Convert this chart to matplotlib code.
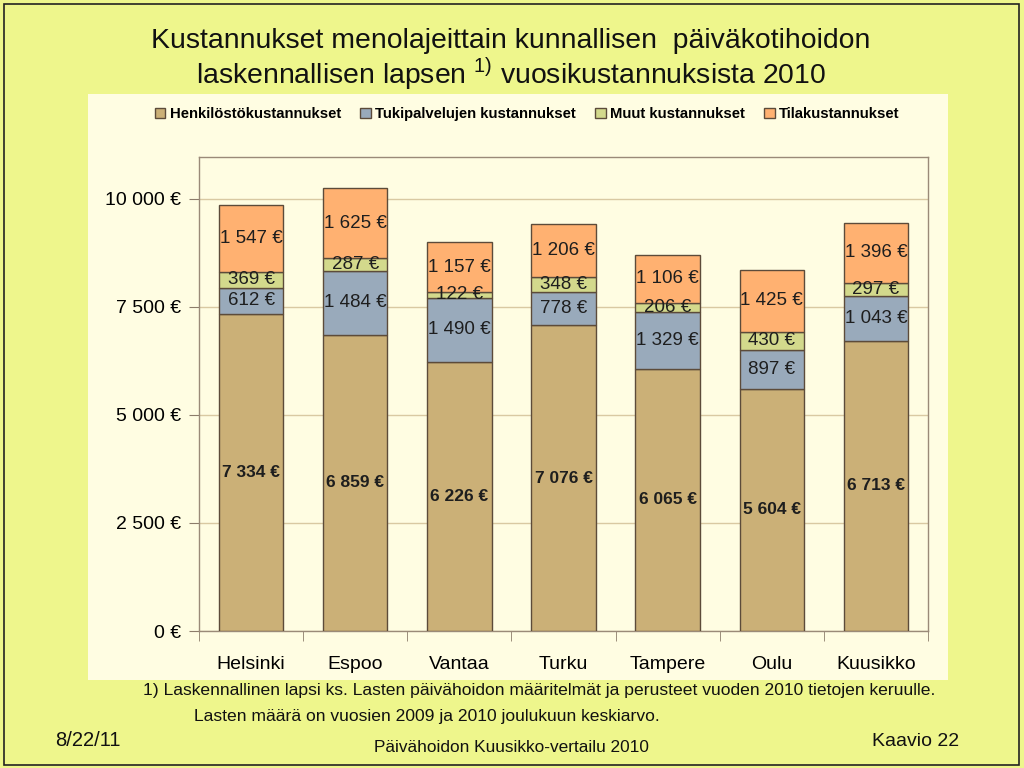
import matplotlib
matplotlib.use("Agg")
import matplotlib.pyplot as plt
from matplotlib.patches import Rectangle
from matplotlib.ticker import FuncFormatter, FixedLocator
import numpy as np

plt.rcParams['font.family'] = ['Liberation Sans', 'DejaVu Sans']
plt.rcParams['mathtext.fontset'] = 'custom'
plt.rcParams['mathtext.rm'] = 'Liberation Sans'

# data
cities = ["Helsinki", "Espoo", "Vantaa", "Turku", "Tampere", "Oulu", "Kuusikko"]
henkilosto = [7334, 6859, 6226, 7076, 6065, 5604, 6713]
tukipalvelut = [612, 1484, 1490, 778, 1329, 897, 1043]
muut = [369, 287, 122, 348, 206, 430, 297]
tila = [1547, 1625, 1157, 1206, 1106, 1425, 1396]
series_names = ["Henkilöstökustannukset", "Tukipalvelujen kustannukset",
                "Muut kustannukset", "Tilakustannukset"]
colors = ["#CBB077", "#99AABB", "#D3D98C", "#FFB171"]
yticks = [0, 2500, 5000, 7500, 10000]


def euro(v, pos=None):
    s = "{:,.0f}".format(v).replace(",", " ")
    return s + " €"


fig = plt.figure(figsize=(10.24, 7.68), dpi=100)
fig.patch.set_facecolor("#EEF68C")

# slide border and chart area (behind the axes)
fig.patches.append(Rectangle((4 / 1024, 3 / 768), 1015 / 1024, 761 / 768,
                             transform=fig.transFigure, fill=False,
                             edgecolor="#222222", lw=1.2, zorder=-2))
fig.patches.append(Rectangle((88 / 1024, 1 - 680 / 768), 860 / 1024, 586 / 768,
                             transform=fig.transFigure, facecolor="#FFFDE2",
                             edgecolor="none", zorder=-1))

ax = fig.add_axes([199 / 1024, 1 - 631 / 768, 729 / 1024, 474 / 768])
ax.set_facecolor("#FFFDE2")

x = np.arange(len(cities))
stack = [henkilosto, tukipalvelut, muut, tila]
bottom = np.zeros(len(cities))
bars = []
for i, vals in enumerate(stack):
    b = ax.bar(x, vals, 0.62, bottom=bottom, color=colors[i],
               edgecolor="#5C4B3A", lw=1.0, label=series_names[i], zorder=3)
    bars.append(b)
    for xi, v, b0 in zip(x, vals, bottom):
        ax.text(xi, b0 + v / 2, euro(v), ha="center", va="center",
                fontsize=12.5 if i == 0 else 13.5,
                fontweight="bold" if i == 0 else "normal",
                color="#1E1E1E", zorder=4)
    bottom = bottom + np.array(vals)

ax.set_xlim(-0.5, len(cities) - 0.5)
ax.set_ylim(0, 10970)
ax.set_yticks(yticks)
ax.yaxis.set_major_formatter(FuncFormatter(euro))
ax.grid(axis="y", color="#D9C9A2", lw=1.0, zorder=0)
ax.set_xticks(x)
ax.set_xticklabels(cities, fontsize=14)
ax.xaxis.set_minor_locator(FixedLocator(np.arange(-0.5, len(cities), 1.0)))
ax.tick_params(axis="x", which="major", length=0, pad=18)
ax.tick_params(axis="x", which="minor", length=7, color="#8C7C6A")
ax.tick_params(axis="y", length=7, color="#8C7C6A", labelsize=14, pad=6)
for sp in ax.spines.values():
    sp.set_color("#9A8A78")
    sp.set_linewidth(1.0)

leg = fig.legend(handles=bars, labels=series_names, ncol=4,
                 loc="center", bbox_to_anchor=(0.515, 1 - 114 / 768),
                 frameon=False, handlelength=0.7, handleheight=0.7,
                 handletextpad=0.3, columnspacing=1.3,
                 prop={"weight": "bold", "size": 10.7})

# title
fig.text(0.499, 1 - 41 / 768, "Kustannukset menolajeittain kunnallisen  päiväkotihoidon",
         ha="center", va="center", fontsize=20.4, color="#111111")
fig.text(0.499, 1 - 74 / 768, r"laskennallisen lapsen $^{\mathrm{1)}}$ vuosikustannuksista 2010",
         ha="center", va="center", fontsize=20.4, color="#111111")

# footnote and footer
fig.text(143 / 1024, 1 - 691 / 768,
         "1) Laskennallinen lapsi ks. Lasten päivähoidon määritelmät ja perusteet vuoden 2010 tietojen keruulle.",
         ha="left", va="center", fontsize=12.6, color="#111111")
fig.text(194 / 1024, 1 - 716 / 768,
         "Lasten määrä on vuosien 2009 ja 2010 joulukuun keskiarvo.",
         ha="left", va="center", fontsize=12.6, color="#111111")
fig.text(55 / 1024, 1 - 741 / 768, "8/22/11", ha="left", va="center",
         fontsize=14.5, color="#111111")
fig.text(511 / 1024, 1 - 748 / 768, "Päivähoidon Kuusikko-vertailu 2010", ha="center",
         va="center", fontsize=12.4, color="#111111")
fig.text(959 / 1024, 1 - 741 / 768, "Kaavio 22", ha="right", va="center",
         fontsize=14, color="#111111")

fig.savefig("out.png", dpi=100, facecolor=fig.get_facecolor())
